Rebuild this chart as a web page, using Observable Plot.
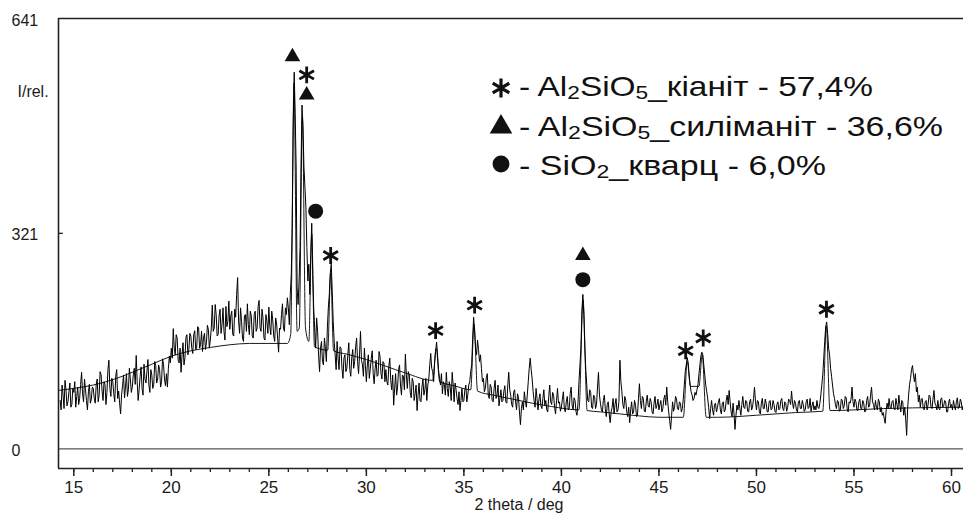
<!DOCTYPE html>
<html><head><meta charset="utf-8">
<script src="https://cdn.jsdelivr.net/npm/d3@7"></script>
<script src="https://cdn.jsdelivr.net/npm/@observablehq/plot@0.6"></script>
<style>
html,body{margin:0;padding:0;background:#fff;}
#chart{width:963px;height:515px;overflow:hidden;}
</style></head><body><div id="chart"></div>
<script>
// ---- measured XRD pattern: 2θ from 14.3° in 0.05° steps ----
const thetaStart = 14.3;
const thetaStep = 0.05;
const intensity = [
  72,58,95,80,60,102,88,64,70,85,98,62,66,90,
  84,100,62,78,92,66,75,96,114,82,70,104,88,72,58,85,96,68,74,92,
  90,75,68,96,104,70,80,115,110,86,72,100,96,66,84,118,132,90,78,105,
  100,82,70,108,118,75,86,68,52,80,94,110,76,92,112,78,88,120,104,84,
  92,110,120,96,139,100,72,88,108,122,90,80,126,104,98,115,133,95,84,118,
  110,90,96,130,124,98,104,125,118,92,100,134,126,104,94,112,92,120,138,128,
  150,135,179,150,140,170,165,132,128,150,114,140,158,125,136,166,170,140,148,172,
  168,150,142,170,176,148,150,182,180,150,155,175,145,165,172,148,158,184,178,150,
  162,180,214,175,180,215,200,168,170,198,208,172,185,210,175,162,212,182,190,220,
  178,198,205,170,168,208,196,230,255,190,172,210,190,165,160,198,200,175,216,185,
  170,205,198,168,165,200,205,175,180,212,221,180,175,208,195,165,162,200,190,172,
  211,182,170,205,192,168,160,195,186,165,144,180,178,200,216,180,175,210,200,225,
  210,185,230,260,330,480,561,500,420,240,215,250,300,420,512,480,420,390,360,300,
  250,275,230,290,336,260,210,180,150,195,175,140,115,150,160,130,125,165,150,130,
  180,210,230,262,275,235,190,160,140,118,160,135,118,152,150,120,105,135,140,115,
  120,140,158,118,108,135,148,120,130,152,165,130,112,140,175,132,125,108,150,124,
  100,125,140,105,118,135,146,112,97,120,132,108,110,145,138,112,104,130,128,100,
  118,100,95,122,135,102,88,110,65,90,112,80,92,118,125,95,80,110,108,88,
  141,110,90,115,110,84,76,105,100,72,82,95,57,80,98,72,70,92,104,80,
  88,105,72,95,104,125,142,120,115,100,128,145,159,140,118,105,95,112,82,100,
  96,80,114,90,78,100,92,72,114,95,70,98,88,75,66,85,57,72,90,70,
  72,88,95,70,80,95,100,115,125,165,196,175,150,140,162,148,130,140,120,100,
  105,85,90,106,112,80,75,96,92,72,70,90,102,75,80,95,64,76,88,70,
  72,86,94,70,68,95,114,88,80,66,62,84,88,70,58,82,76,55,36,60,
  70,58,85,72,62,80,100,120,135,118,104,85,72,62,90,75,58,74,82,64,
  60,75,88,65,72,58,55,78,95,70,66,84,80,62,52,72,90,68,70,56,
  62,74,85,60,55,70,78,58,60,82,92,65,58,76,72,55,50,68,100,125,
  150,205,230,200,150,118,95,72,70,88,84,62,60,80,78,60,66,92,114,80,
  68,58,55,72,80,60,48,66,70,52,39,55,62,75,52,66,75,55,58,70,
  132,100,85,66,60,78,72,55,48,62,39,58,70,52,55,72,65,48,50,75,
  97,72,60,78,75,56,55,70,80,64,62,75,70,55,52,68,78,60,65,74,
  58,66,72,55,60,74,80,65,92,70,55,42,29,50,70,56,62,78,75,60,
  58,70,68,55,60,75,95,115,125,136,128,110,95,85,80,72,75,84,80,88,
  95,110,125,138,144,140,125,110,95,85,75,62,45,60,72,58,50,66,68,55,
  62,70,75,58,52,68,70,55,58,72,80,66,87,70,55,48,68,52,29,50,
  65,58,72,60,50,66,78,62,60,72,70,56,55,70,74,58,62,75,92,70,
  58,72,70,55,52,68,75,60,60,74,68,55,55,70,72,58,60,72,66,56,
  54,66,70,58,60,72,75,60,57,70,68,56,62,74,72,66,86,68,60,72,
  68,58,55,70,72,60,60,72,66,56,58,70,74,60,62,75,56,64,70,58,
  64,58,72,62,60,68,80,95,110,135,160,182,189,172,150,140,120,108,95,82,
  75,66,60,72,70,56,58,74,72,60,64,78,76,60,55,70,68,74,92,70,
  62,74,70,58,57,70,74,60,60,72,68,55,56,72,78,62,64,80,92,70,
  66,58,72,62,58,74,70,55,62,50,54,45,38,58,68,60,75,62,60,70,
  72,60,58,75,66,58,80,66,55,72,70,50,62,45,20,60,80,96,105,118,
  124,110,100,112,85,92,70,80,62,74,75,60,58,70,72,58,66,80,78,62,
  60,74,87,68,65,58,72,60,58,74,76,62,64,72,70,55,55,68,74,62,
  66,58,72,64,58,70,76,60,62,74,70,58,64
];

// ---- calculated profile (background + fitted peaks) ----
const fitTheta = [14.216, 15, 16, 17, 18, 19, 20, 21, 22, 23, 24, 25, 25.95,
  26.12, 26.29, 26.45, 26.56, 26.72, 26.88, 27.05, 27.2, 27.34, 28.02, 28.17, 28.32,
  29, 30, 31, 32, 33.4, 33.58, 33.76, 34.5, 35.35, 35.52, 35.7, 36.5, 37.5, 38.5, 39.5,
  40.9, 41.11, 41.32, 42, 43, 44, 45, 46.25, 46.45, 46.62, 47.05, 47.22, 47.42, 48, 49,
  50, 51, 52, 53.4, 53.58, 53.77, 55, 56.5, 58, 60.615];
const fitIntensity = [87, 90, 95, 103, 114, 126, 138, 146, 151, 155, 157, 157, 157,
  170, 545, 175, 180, 495, 180, 160, 320, 152, 147, 262, 146,
  141, 133, 123, 113, 102, 150, 100, 94, 88, 186, 86, 80, 74, 68, 63,
  58, 222, 57, 55, 52, 49, 47, 47, 130, 93, 93, 140, 47, 47, 48,
  50, 52, 54, 56, 183, 57, 58, 60, 61, 62];

// ---- phase markers ----
const kyaniteTheta = [26.94, 28.17, 33.55, 35.55, 46.37, 47.27, 53.59];
const kyaniteY = [557, 288, 176, 214, 146, 165, 208];
const sillimaniteTheta = [26.21, 26.94, 41.10];
const sillimaniteY = [584, 527, 288];
const quartzTheta = [27.40, 41.10];
const quartzY = [354, 252];

// ---- axes ----
const xTickLabels = [15, 20, 25, 30, 35, 40, 45, 50, 55, 60];
const xMinorTicks = [15,16,17,18,19,20,21,22,23,24,25,26,27,28,29,30,31,32,33,34,35,36,37,38,39,40,
  41,42,43,44,45,46,47,48,49,50,51,52,53,54,55,56,57,58,59,60];
const yTickLabels = [0, 321, 641];
const xDomain = [14.216, 60.615];
const yDomain = [-29.3, 641];

// ---- legend ----
const legendSymbols = ["asterisk", "triangle", "circle"];
const legendFormula = ["Al2SiO5", "Al2SiO5", "SiO2"];
const legendMineral = ["кіаніт", "силіманіт", "кварц"];
const legendPercent = ["57,4%", "36,6%", "6,0%"];

const pattern = intensity.map((v, i) => ({x: +(thetaStart + i * thetaStep).toFixed(2), y: v}));
const fit = fitTheta.map((t, i) => ({x: t, y: fitIntensity[i]}));
const kyanite = kyaniteTheta.map((t, i) => ({x: t, y: kyaniteY[i]}));
const sillimanite = sillimaniteTheta.map((t, i) => ({x: t, y: sillimaniteY[i]}));
const quartz = quartzTheta.map((t, i) => ({x: t, y: quartzY[i]}));

const FONT = "'Liberation Sans', Arial, Helvetica, sans-serif";
const INK = "#1a1a1a";

const chart = Plot.plot({
  width: 963, height: 515,
  marginLeft: 58, marginRight: 0, marginTop: 18, marginBottom: 47,
  style: {fontFamily: FONT, fontSize: "16px", color: INK, background: "#fff"},
  x: {domain: xDomain},
  y: {domain: yDomain},
  marks: [
    Plot.ruleY([0], {stroke: "#555", strokeWidth: 1.3}),
    Plot.line(fit, {x: "x", y: "y", curve: "monotone-x", stroke: INK, strokeWidth: 1, clip: true}),
    Plot.line(pattern, {x: "x", y: "y", stroke: "#000", strokeWidth: 1, clip: true}),
    Plot.dot(kyanite, {x: "x", y: "y", symbol: "asterisk", r: 8, stroke: "#111", strokeWidth: 2.8}),
    Plot.dot(sillimanite, {x: "x", y: "y", symbol: "triangle", r: 5.8, fill: "#111", stroke: "none"}),
    Plot.dot(quartz, {x: "x", y: "y", symbol: "circle", r: 7.5, fill: "#111", stroke: "none"}),
    // frame: left, top, bottom
    Plot.ruleX([xDomain[0]], {stroke: "#222", strokeWidth: 1.6}),
    Plot.ruleY([yDomain[1]], {stroke: "#222", strokeWidth: 1.6}),
    Plot.ruleY([yDomain[0]], {stroke: "#222", strokeWidth: 1.6}),
    Plot.ruleY([321], {x1: xDomain[0], x2: xDomain[0] + 0.25, stroke: "#222", strokeWidth: 1.3}),
    Plot.axisX({ticks: xMinorTicks, tickSize: 4, tickFormat: () => "", label: null, stroke: "#222", strokeWidth: 1.3}),
    Plot.axisX({ticks: xTickLabels, tickSize: 8, tickPadding: 4, fontSize: 17, label: null, stroke: "#222", strokeWidth: 1.5, fill: INK}),
    Plot.axisY({ticks: yTickLabels, tickSize: 0, tickPadding: 0, textAnchor: "start", dx: -47, dy: 2, fontSize: 16, label: null, fill: INK}),
    Plot.text(["I/rel."], {frameAnchor: "top-left", lineAnchor: "middle", textAnchor: "start", dx: -41, dy: 73, fontSize: 16, fill: INK}),
    Plot.text(["2 theta / deg"], {frameAnchor: "bottom", lineAnchor: "middle", dx: 8, dy: 36, fontSize: 16, fill: INK})
  ]
});

// ---- legend (inside the plot area, top right) ----
const svg = d3.select(chart);
const lg = svg.append("g").attr("font-family", FONT).attr("fill", "#111").attr("text-anchor", "start");
const symX = 501, textX = 519, base0 = 96, lineGap = 39.5;
const lineLengths = [354, 424, 307];
legendSymbols.forEach((s, i) => {
  const base = base0 + i * lineGap;
  const symCy = [88, 127, 164][i];
  const symType = {asterisk: d3.symbolAsterisk, triangle: d3.symbolTriangle, circle: d3.symbolCircle}[s];
  const size = {asterisk: 260, triangle: 220, circle: 225}[s];
  const p = lg.append("path")
    .attr("d", d3.symbol(symType, size)())
    .attr("transform", `translate(${symX},${symCy})`);
  if (s === "asterisk") p.attr("fill", "none").attr("stroke", "#111").attr("stroke-width", 3.2);
  else p.attr("fill", "#111");
  const t = lg.append("text").attr("x", textX).attr("y", base).attr("font-size", 28)
    .attr("textLength", lineLengths[i]).attr("lengthAdjust", "spacingAndGlyphs");
  t.append("tspan").text("- ");
  const parts = legendFormula[i].match(/[A-Za-z]+|\d+/g);
  let sub = false;
  parts.forEach(part => {
    if (/\d/.test(part)) {
      t.append("tspan").attr("font-size", 19).attr("dy", 3).text(part);
      sub = true;
    } else {
      const ts = t.append("tspan").text(part);
      if (sub) { ts.attr("dy", -3); sub = false; }
    }
  });
  const tail = t.append("tspan").text("_" + legendMineral[i] + " - " + legendPercent[i]);
  if (sub) tail.attr("dy", -3);
});

document.getElementById("chart").appendChild(chart);
</script>
</body></html>
